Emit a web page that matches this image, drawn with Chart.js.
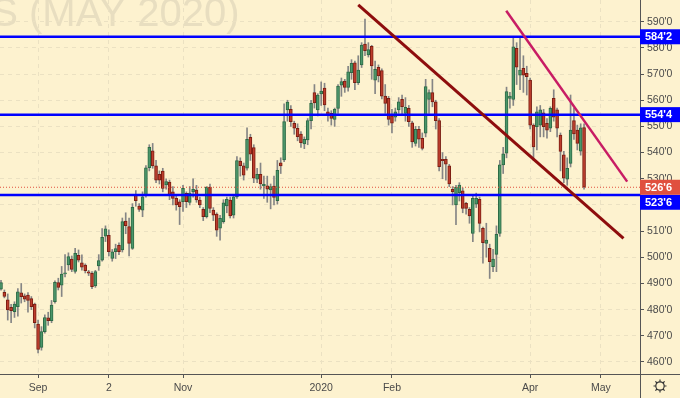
<!DOCTYPE html>
<html>
<head>
<meta charset="utf-8">
<script src="https://cdn.jsdelivr.net/npm/chart.js@4.4.1/dist/chart.umd.min.js"></script>
<style>
  html, body { margin: 0; padding: 0; background: #fdf2cf; }
  #chart { display: block; }
</style>
</head>
<body>
<canvas id="chart" width="680" height="398"></canvas>
<script>
'use strict';

//*****DATA******/

let opens = [
  487.8, 486.6, 483.7, 480.9, 479.2, 481.1, 486.4, 485.3, 485.6, 484.2, 482.1, 474.5, 465.6, 471.6, 476.9,
  475.8, 483.0, 490.3, 489.3, 493.6, 497.1, 499.3, 494.6, 500.7, 497.9, 497.0, 494.4, 493.9, 489.1, 496.7,
  498.9, 508.1, 508.4, 499.6, 502.1, 504.6, 502.8, 513.8, 511.7, 503.4, 523.8, 519.6, 518.0, 523.8, 534.2,
  540.7, 534.9, 531.7, 532.9, 527.6, 528.7, 525.0, 522.5, 521.2, 521.2, 524.4, 521.0, 525.0, 525.7, 521.9,
  518.3, 515.5, 526.8, 518.0, 516.5, 511.1, 513.6, 519.6, 521.9, 516.1, 523.1, 536.8, 534.9, 534.0, 545.8,
  541.9, 529.8, 531.7, 527.3, 527.3, 525.7, 527.2, 521.6, 536.1, 537.2, 556.3, 556.5, 551.2, 549.3,
  547.1, 543.3, 544.8, 552.2, 562.9, 556.3, 562.4, 564.6, 555.6, 555.0, 552.7, 556.9, 565.8, 567.3, 564.9,
  570.5, 574.3, 566.7, 573.5, 581.5, 577.3, 580.6, 567.7, 572.6, 571.3, 561.6, 560.7, 554.0, 553.5, 556.3,
  560.3, 555.0, 556.9, 551.4, 543.5, 548.9, 545.4, 547.4, 560.3, 562.9, 559.4, 552.2, 537.4, 537.4, 534.9,
  526.0, 520.0, 524.7, 525.4, 520.6, 518.3, 509.1, 520.3, 522.1, 511.1, 505.3, 503.4, 496.4, 501.1, 509.1, 535.3,
  539.8, 560.7, 560.3, 579.8, 569.6, 572.2, 570.3, 567.7, 550.5, 549.9, 550.5, 555.2, 551.2, 549.3, 560.7,
  556.3, 546.7, 539.1, 529.8, 535.9, 552.2, 548.6, 540.5, 549.6
];
let highs = [
  491.2, 487.5, 486.0, 482.0, 483.0, 488.0, 490.0, 486.0, 486.5, 485.0, 482.5, 476.0, 473.5, 478.0, 479.0,
  483.5, 491.0, 492.0, 496.5, 501.0, 501.7, 500.5, 503.4, 502.8, 500.9, 497.5, 495.0, 494.5, 495.0, 501.0,
  511.0, 512.0, 510.5, 503.0, 505.0, 505.5, 515.0, 517.0, 515.0, 520.5, 525.5, 520.5, 525.0, 535.0, 543.0,
  543.5, 537.0, 533.0, 534.0, 530.0, 529.5, 527.0, 523.5, 522.0, 527.5, 525.0, 527.0, 530.0, 527.5, 523.0,
  519.0, 527.0, 528.0, 519.0, 517.0, 516.0, 522.0, 523.0, 523.0, 524.0, 538.5, 538.0, 536.0, 549.5, 547.0,
  543.0, 534.0, 536.0, 531.0, 531.0, 528.0, 531.0, 537.0, 538.0, 558.6, 560.0, 558.0, 552.0, 551.0,
  548.0, 546.0, 553.0, 560.0, 566.0, 562.5, 567.0, 566.5, 557.0, 556.0, 557.0, 566.0, 568.5, 568.0, 573.0,
  575.5, 575.0, 577.0, 582.0, 591.0, 582.0, 581.0, 575.0, 573.5, 572.0, 566.0, 561.5, 556.5, 557.0, 561.0,
  562.0, 561.0, 558.0, 552.0, 550.0, 550.0, 547.5, 568.0, 564.0, 568.0, 560.0, 553.0, 540.0, 538.5, 535.5,
  527.0, 527.5, 528.5, 526.5, 521.0, 519.0, 523.5, 524.5, 523.0, 511.5, 513.0, 505.0, 503.0, 512.0, 537.0, 542.0,
  565.0, 563.0, 583.7, 582.0, 584.0, 577.0, 573.0, 568.5, 551.0, 557.5, 558.0, 556.5, 553.0, 557.5, 564.0,
  557.0, 547.5, 540.5, 538.0, 562.0, 557.0, 550.5, 551.0, 551.0
];
let lows = [
  487.4, 484.5, 476.0, 475.0, 477.0, 477.5, 482.5, 483.0, 479.0, 480.0, 473.0, 463.5, 464.5, 471.0, 474.0,
  475.0, 482.5, 487.5, 485.0, 492.5, 495.0, 494.5, 493.9, 498.2, 495.1, 494.0, 493.0, 488.0, 488.5, 495.0,
  498.5, 506.0, 500.5, 498.5, 499.5, 501.0, 502.0, 509.0, 500.5, 503.0, 519.5, 517.5, 515.5, 523.0, 533.0,
  534.0, 528.5, 528.0, 525.0, 526.0, 522.0, 520.0, 518.0, 512.5, 517.5, 519.0, 520.0, 523.0, 521.0, 519.0,
  514.0, 515.0, 517.0, 514.0, 508.0, 506.5, 513.0, 517.0, 515.0, 515.0, 522.5, 531.0, 529.5, 533.3, 537.0,
  528.5, 528.5, 526.0, 522.5, 521.0, 518.5, 520.0, 520.3, 532.0, 536.5, 552.0, 550.0, 547.0, 544.5,
  542.0, 541.5, 543.0, 549.0, 557.0, 554.0, 558.0, 556.0, 552.0, 550.5, 550.0, 555.0, 561.5, 563.0, 563.5,
  568.0, 564.0, 566.0, 572.5, 577.0, 576.5, 568.0, 562.5, 567.0, 560.5, 555.0, 550.5, 547.5, 552.0, 555.0,
  554.5, 552.0, 550.0, 542.0, 542.5, 542.0, 541.0, 546.0, 555.0, 557.5, 549.0, 533.0, 530.0, 529.5, 527.0,
  520.0, 512.5, 521.5, 517.0, 516.5, 513.0, 506.0, 519.0, 509.7, 497.7, 500.0, 491.9, 494.5, 494.5, 508.0, 532.0,
  538.0, 557.0, 558.0, 566.0, 564.0, 563.0, 562.0, 549.0, 537.0, 541.0, 546.0, 546.0, 545.5, 548.0, 552.0,
  546.0, 533.0, 528.5, 527.5, 534.5, 545.0, 541.0, 539.0, 526.0
];
let closes = [
  490.3, 485.0, 479.9, 479.6, 482.1, 486.8, 484.9, 484.0, 483.5, 481.1, 475.0, 464.8, 471.6, 477.0, 475.8,
  481.7, 490.4, 488.5, 493.6, 494.1, 500.3, 495.4, 501.5, 498.9, 496.2, 494.9, 493.9, 488.8, 494.5, 498.7,
  507.6, 510.9, 502.1, 502.1, 503.3, 502.1, 513.6, 512.1, 505.3, 519.1, 521.6, 518.3, 523.1, 534.2, 542.0,
  534.9, 529.5, 529.5, 526.3, 528.9, 523.8, 522.5, 520.0, 519.3, 526.3, 521.2, 524.5, 526.0, 521.9, 520.0,
  515.5, 526.8, 518.7, 516.1, 510.4, 514.9, 520.8, 522.1, 515.8, 523.1, 536.9, 535.0, 531.4, 545.1, 539.4,
  530.2, 531.7, 528.0, 527.9, 526.0, 527.0, 522.9, 533.2, 534.9, 551.8, 559.3, 551.8, 549.3, 546.1,
  543.8, 545.1, 552.2, 558.8, 559.0, 562.0, 563.5, 558.2, 554.4, 553.1, 556.5, 565.4, 567.1, 564.9, 570.9,
  574.1, 566.7, 571.5, 581.1, 578.9, 579.4, 573.1, 571.8, 569.3, 561.6, 558.8, 552.7, 551.2, 555.6, 559.4,
  557.5, 557.3, 551.8, 544.1, 548.9, 545.1, 541.6, 565.2, 562.9, 559.4, 552.2, 534.6, 536.9, 535.6, 528.0,
  525.1, 526.7, 527.6, 518.7, 518.7, 515.8, 522.5, 522.5, 512.9, 505.6, 506.6, 498.3, 499.3, 508.8, 535.3, 539.5,
  563.3, 561.6, 580.4, 572.6, 571.5, 569.6, 569.0, 550.5, 542.2, 555.6, 556.3, 549.9, 548.6, 556.9, 553.5,
  549.3, 540.4, 530.2, 534.0, 548.6, 547.1, 543.5, 549.5, 526.75
];

// month labels sit on bar index of the first session shown
let monthTicks = [11, 32, 54, 95, 116, 157, 178];
let monthLabels = ['Sep', '2', 'Nov', '2020', 'Feb', 'Apr', 'May'];
let priceTicks = [460, 470, 480, 490, 500, 510, 520, 530, 540, 550, 560, 570, 580, 590];

let levels = [584.25, 554.5, 523.75];
let lastPrice = 526.75;

// trend lines: [bar index, price]
let fallLine = [[106, 596.4], [184.7, 507.2]];
let steepLine = [[149.9, 594.2], [185.8, 528.9]];

let symbolText = 'S (MAY 2020)';

//*****SETTINGS******/

let xMin = -0.3;
let xMax = 189.6;
let yMin = 455.4;
let yMax = 598.3;

let bgColor = '#fdf2cf';
let gridColor = '#ebe1c2';
let axisColor = '#555555';
let textColor = '#4a4a4a';
let upFill = '#4b966a';
let upEdge = '#2c6a45';
let downFill = '#bd3d2c';
let downEdge = '#7a1d12';
let levelBlue = '#0000ff';
let lastRed = '#e0503f';
let fontFam = '"Liberation Sans", Arial, sans-serif';

//*****HELPERS******/

function fmtPrice(v) {
  let whole = Math.floor(v + 1e-9);
  let eighths = Math.round((v - whole) * 8);
  return whole + '\'' + eighths;
}

let wickData = [];
let bodyData = [];
let bodyFill = [];
let bodyEdge = [];
for (let i = 0; i < opens.length; i++) {
  wickData.push({ x: i, y: [lows[i], highs[i]] });
  bodyData.push({ x: i, y: [opens[i], closes[i]] });
  let up = closes[i] >= opens[i];
  bodyFill.push(up ? upFill : downFill);
  bodyEdge.push(up ? upEdge : downEdge);
}

function lineData(pair) {
  return [{ x: pair[0][0], y: pair[0][1] }, { x: pair[1][0], y: pair[1][1] }];
}

let levelSets = levels.map(function (lv) {
  return {
    type: 'line',
    data: [{ x: xMin, y: lv }, { x: xMax, y: lv }],
    borderColor: levelBlue,
    borderWidth: 2.5,
    pointRadius: 0,
    order: 1
  };
});

//*****PLUGINS******/

let paperPlugin = {
  id: 'paper',
  beforeDraw(chart) {
    let ctx = chart.ctx;
    ctx.save();
    ctx.fillStyle = bgColor;
    ctx.fillRect(0, 0, chart.width, chart.height);
    ctx.font = '40px ' + fontFam;
    ctx.fillStyle = '#e8dec0';
    ctx.textBaseline = 'alphabetic';
    let lead = ctx.measureText('S ').width;
    ctx.fillText(symbolText, 29 - lead, 26);
    ctx.restore();
  }
};

function drawBox(ctx, y, fill, label) {
  ctx.fillStyle = fill;
  ctx.fillRect(640, y - 7.5, 40, 15);
  ctx.fillStyle = '#ffffff';
  ctx.font = 'bold 11px ' + fontFam;
  ctx.textAlign = 'left';
  ctx.textBaseline = 'middle';
  ctx.fillText(label, 645, y + 0.5);
}

let labelPlugin = {
  id: 'labels',
  afterDraw(chart) {
    let ctx = chart.ctx;
    let ys = chart.scales.y;
    let area = chart.chartArea;
    ctx.save();

    // axis frame pieces outside the plot
    ctx.strokeStyle = axisColor;
    ctx.lineWidth = 1;
    ctx.beginPath();
    ctx.moveTo(area.right + 0.5, area.bottom);
    ctx.lineTo(area.right + 0.5, chart.height);
    ctx.moveTo(area.right, area.bottom + 0.5);
    ctx.lineTo(chart.width, area.bottom + 0.5);
    ctx.stroke();

    let lastY = ys.getPixelForValue(lastPrice);
    levels.forEach(function (lv) {
      let y = ys.getPixelForValue(lv);
      if (Math.abs(y - lastY) < 15) {
        y = y >= lastY ? lastY + 15 : lastY - 15;
      }
      drawBox(ctx, y, levelBlue, fmtPrice(lv));
    });
    drawBox(ctx, lastY, lastRed, fmtPrice(lastPrice));

    // settings icon
    let cx = 660, cy = 386;
    ctx.strokeStyle = '#333333';
    ctx.lineWidth = 1.2;
    ctx.beginPath();
    ctx.arc(cx, cy, 4.2, 0, Math.PI * 2);
    ctx.stroke();
    ctx.beginPath();
    for (let k = 0; k < 8; k++) {
      let a = k * Math.PI / 4;
      ctx.moveTo(cx + Math.cos(a) * 4.2, cy + Math.sin(a) * 4.2);
      ctx.lineTo(cx + Math.cos(a) * 6.5, cy + Math.sin(a) * 6.5);
    }
    ctx.stroke();
    ctx.restore();
  }
};

//*****CHART******/

let canvasElem = document.getElementById('chart');

let chartObj = {
  type: 'bar',
  data: {
    datasets: [
      {
        type: 'line',
        data: lineData(fallLine),
        borderColor: '#8e0d0d',
        borderWidth: 3,
        pointRadius: 0,
        order: 0
      },
      {
        type: 'line',
        data: lineData(steepLine),
        borderColor: '#c81c64',
        borderWidth: 2.5,
        pointRadius: 0,
        order: 0
      },
      ...levelSets,
      {
        type: 'line',
        data: [{ x: xMin, y: lastPrice }, { x: xMax, y: lastPrice }],
        borderColor: lastRed,
        borderWidth: 1,
        borderDash: [1, 2],
        pointRadius: 0,
        order: 2
      },
      {
        data: bodyData,
        backgroundColor: bodyFill,
        borderColor: bodyEdge,
        borderWidth: 1,
        borderSkipped: false,
        barThickness: 3,
        grouped: false,
        order: 3
      },
      {
        data: wickData,
        backgroundColor: '#858585',
        barThickness: 1,
        grouped: false,
        order: 4
      }
    ]
  },
  options: {
    responsive: false,
    animation: false,
    devicePixelRatio: 1,
    layout: { padding: 0 },
    plugins: {
      legend: { display: false },
      tooltip: { enabled: false }
    },
    scales: {
      x: {
        type: 'linear',
        min: xMin,
        max: xMax,
        offset: false,
        afterFit(scale) {
          scale.height = 24;
          scale.paddingLeft = 0;
          scale.paddingRight = 0;
        },
        afterBuildTicks(scale) {
          scale.ticks = monthTicks.map(function (v) { return { value: v }; });
        },
        ticks: {
          autoSkip: false,
          maxRotation: 0,
          padding: 4,
          color: textColor,
          font: { family: fontFam, size: 10.5 },
          callback(value) {
            let idx = monthTicks.indexOf(value);
            return idx >= 0 ? monthLabels[idx] : '';
          }
        },
        grid: {
          offset: false,
          color: gridColor,
          lineWidth: 1,
          tickLength: 4,
          tickColor: axisColor
        },
        border: { display: true, color: axisColor, width: 1, dash: [4, 4] }
      },
      y: {
        type: 'linear',
        position: 'right',
        min: yMin,
        max: yMax,
        beginAtZero: false,
        afterFit(scale) {
          scale.width = 40;
          scale.paddingTop = 0;
          scale.paddingBottom = 0;
        },
        afterBuildTicks(scale) {
          scale.ticks = priceTicks.map(function (v) { return { value: v }; });
        },
        ticks: {
          padding: 3,
          color: textColor,
          font: { family: fontFam, size: 10.5 },
          callback(value) { return fmtPrice(value); }
        },
        grid: {
          color: gridColor,
          lineWidth: 1,
          tickLength: 4,
          tickColor: axisColor
        },
        border: { display: true, color: axisColor, width: 1, dash: [4, 4] }
      }
    }
  },
  plugins: [paperPlugin, labelPlugin]
};

new Chart(canvasElem, chartObj);
</script>
</body>
</html>
